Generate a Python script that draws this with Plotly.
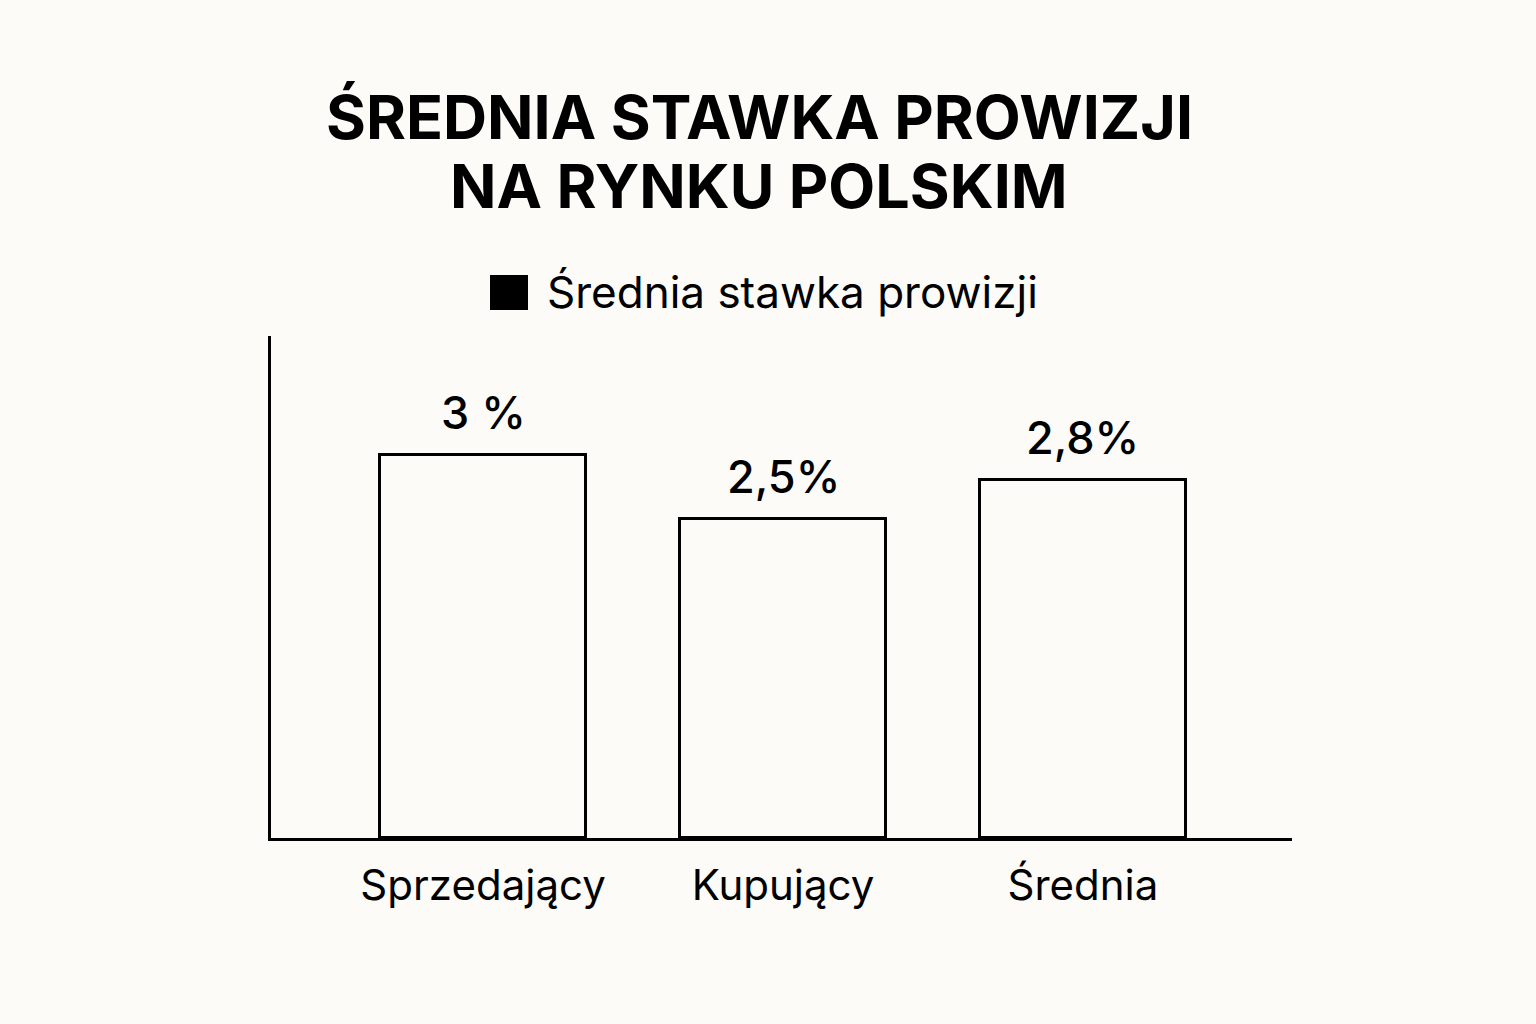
import plotly.graph_objects as go

categories = ["Sprzedający", "Kupujący", "Średnia"]
values = [3.0, 2.5, 2.8]
value_labels = ["3 %", "2,5%", "2,8%"]
series_name = "Średnia stawka prowizji"
title_lines = ["ŚREDNIA STAWKA PROWIZJI", "NA RYNKU POLSKIM"]

BG = "#FCFBF7"
W, H = 1536, 1024
X0, X1, Y0, Y1 = 271, 1292, 336, 838  # plot area in pixels


def px(xp):
    return (xp - X0) / (X1 - X0)


def py(yp):
    return (Y1 - yp) / (Y1 - Y0)


fig = go.Figure()
fig.add_trace(go.Bar(
    x=list(range(len(categories))),
    y=values,
    width=0.687,
    marker=dict(color=BG, line=dict(color="black", width=3)),
    showlegend=False,
    hoverinfo="skip",
))

for i, (v, t) in enumerate(zip(values, value_labels)):
    fig.add_annotation(x=i, y=v, text=t, showarrow=False, xref="x", yref="y",
                       yanchor="bottom", yshift=13,
                       font=dict(family="Inter", size=45, color="black", weight=500))

# title as two lines
for yc, line in zip([117, 186], title_lines):
    fig.add_annotation(xref="paper", yref="paper", x=px(759), y=py(yc), text=line,
                       showarrow=False, xanchor="center", yanchor="middle",
                       font=dict(family="Inter", size=61, color="black", weight="bold"))

# manual legend
fig.add_shape(type="rect", xref="paper", yref="paper",
              x0=px(490), x1=px(528), y0=py(310), y1=py(275),
              fillcolor="black", line=dict(width=0))
fig.add_annotation(xref="paper", yref="paper", x=px(545), y=py(292),
                   text=series_name, showarrow=False, xanchor="left", yanchor="middle",
                   font=dict(family="Inter", size=44, color="black"))

fig.update_layout(
    width=W, height=H,
    paper_bgcolor=BG, plot_bgcolor=BG,
    margin=dict(l=X0, r=W - X1, t=Y0, b=H - Y1),
    showlegend=False,
    bargap=0,
)
fig.update_xaxes(
    tickmode="array", tickvals=list(range(len(categories))), ticktext=categories,
    range=[-0.707, 2.697], showline=True, linecolor="black", linewidth=3,
    showgrid=False, zeroline=False, ticks="", ticklabelstandoff=9,
    tickfont=dict(family="Inter", size=42, color="black"),
)
fig.update_yaxes(
    range=[0, 3.93], showline=True, linecolor="black", linewidth=3,
    showgrid=False, zeroline=False, showticklabels=False, ticks="",
)

fig.write_html(
    "out.html",
    config={"displayModeBar": False},
    post_script="document.body.style.margin='0';document.body.style.backgroundColor='" + BG + "';",
)
